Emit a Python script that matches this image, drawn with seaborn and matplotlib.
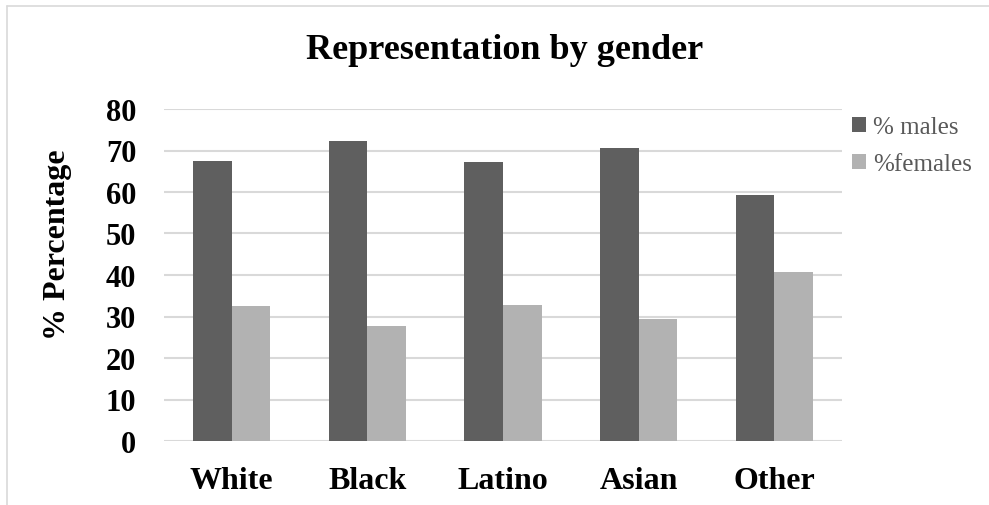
import matplotlib
matplotlib.use("Agg")
import matplotlib.pyplot as plt
import seaborn as sns
import pandas as pd
from matplotlib.patches import Patch
from matplotlib.lines import Line2D

# Data
groups = ["White", "Black", "Latino", "Asian", "Other"]
males = [67.5, 72.2, 67.3, 70.7, 59.3]
females = [32.5, 27.8, 32.7, 29.3, 40.7]
series_names = ["% males", "%females"]
yticks = [0, 10, 20, 30, 40, 50, 60, 70, 80]

df = pd.DataFrame({
    "group": groups * 2,
    "value": males + females,
    "series": [series_names[0]] * len(groups) + [series_names[1]] * len(groups),
})

sns.set_theme(style="white")
plt.rcParams["font.family"] = ["Liberation Serif", "DejaVu Serif"]

W, H = 989, 506
fig = plt.figure(figsize=(W / 100, H / 100), dpi=100)
ax = fig.add_axes([164 / W, 1 - 442 / H, (842 - 164) / W, (442 - 110) / H])

colors = {"% males": "#5f5f5f", "%females": "#b2b2b2"}
sns.barplot(data=df, x="group", y="value", hue="series", palette=colors,
            width=0.57, linewidth=0, ax=ax, legend=False, zorder=3)

ax.set_ylim(0, 80)
ax.set_yticks(yticks)
ax.set_yticklabels([str(t) for t in yticks], fontsize=22, fontweight="bold", color="black")
ax.set_xticks(range(len(groups)))
ax.set_xticklabels(groups, fontsize=23, fontweight="bold", color="black")
ax.tick_params(axis="y", length=0, pad=20)
ax.tick_params(axis="x", length=0, pad=18)
ax.set_xlabel("")
ax.set_ylabel("% Percentage", fontsize=23, fontweight="bold", color="black")
ax.yaxis.set_label_coords(-0.136, 0.593)
ax.grid(axis="y", color="#d9d9d9", linewidth=1.5, zorder=0)
ax.grid(axis="x", visible=False)
for s in ax.spines.values():
    s.set_visible(False)

fig.text(505 / W, 1 - 59 / H, "Representation by gender", ha="center", va="baseline",
         fontsize=26, fontweight="bold", color="black")

handles = [Patch(facecolor=colors[n], edgecolor="none") for n in series_names]
leg = fig.legend(handles, series_names, loc="upper left",
                 bbox_to_anchor=(852 / W, 1 - 117 / H), frameon=False,
                 borderpad=0, borderaxespad=0,
                 fontsize=18, handlelength=0.56, handleheight=0.56,
                 handletextpad=0.28, labelspacing=0.6)
for t in leg.get_texts():
    t.set_color("#595959")

# chart-area border (only top and left visible in reference)
fig.add_artist(Line2D([7 / W, 7 / W], [0, 1 - 7 / H], color="#d9d9d9", linewidth=1.2))
fig.add_artist(Line2D([7 / W, 1], [1 - 7 / H, 1 - 7 / H], color="#d9d9d9", linewidth=1.2))

fig.savefig("out.png", dpi=100, facecolor="white")
